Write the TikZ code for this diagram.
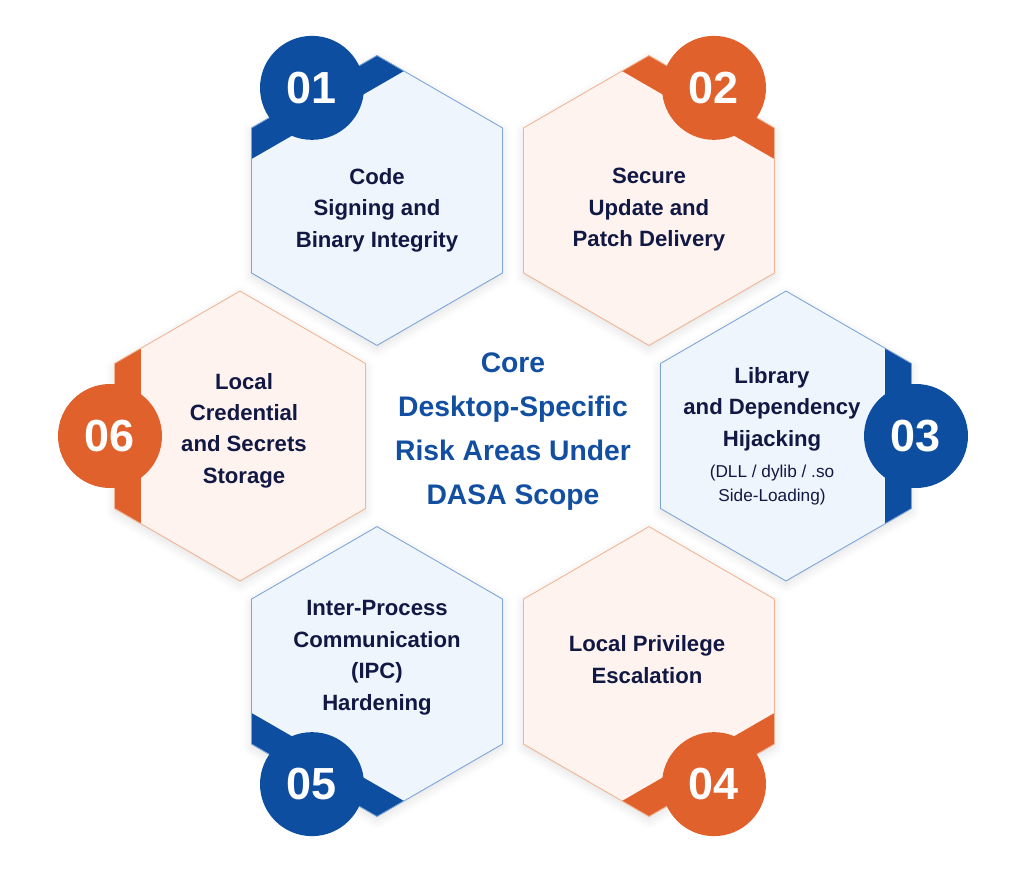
\documentclass[tikz,border=0pt]{standalone}
\usepackage{fontspec}
\setmainfont{Liberation Sans}
\usetikzlibrary{shapes.geometric,shadows.blur}
\definecolor{deepblue}{HTML}{0D4EA1}
\definecolor{deeporange}{HTML}{E0612B}
\definecolor{paleblue}{HTML}{EFF5FC}
\definecolor{paleorange}{HTML}{FEF3EE}
\definecolor{lineblue}{HTML}{7EA5D8}
\definecolor{lineorange}{HTML}{F1B595}
\definecolor{navy}{HTML}{111843}
\definecolor{coreblue}{HTML}{134FA1}

\begin{document}
\begin{tikzpicture}[
  x=0.02cm, y=0.02cm,
  hexa/.style={regular polygon, regular polygon sides=6, shape border rotate=30, minimum size=5.8cm, inner sep=0pt, outer sep=0pt, line width=0.5pt, blur shadow={shadow xshift=0pt, shadow yshift=-2pt, shadow opacity=12, shadow blur radius=5pt}},
  bluehex/.style={hexa, fill=paleblue, draw=lineblue},
  orangehex/.style={hexa, fill=paleorange, draw=lineorange},
  band/.style 2 args={path picture={\fill[#2]
    ([shift={(#1:98.6)}, shift={(#1+90:200)}]path picture bounding box.center) --
    ([shift={(#1:200)}, shift={(#1+90:200)}]path picture bounding box.center) --
    ([shift={(#1:200)}, shift={(#1-90:200)}]path picture bounding box.center) --
    ([shift={(#1:98.6)}, shift={(#1-90:200)}]path picture bounding box.center) -- cycle;}},
  badge/.style={circle, minimum size=2.08cm, inner sep=0pt, text=white, font=\fontsize{25.6}{30}\selectfont\bfseries},
  hextext/.style={align=center, text=navy, font=\fontsize{12.6}{17.9}\selectfont\bfseries},
  smalltext/.style={align=center, text=navy, font=\fontsize{9.8}{13.7}\selectfont},
  coretext/.style={align=center, text=coreblue, font=\fontsize{16.1}{25}\selectfont\bfseries}
]
\useasboundingbox (-513,-443) rectangle (511,436);

\node[bluehex, band={120}{deepblue}] (code) at (120:272) {};
\node[orangehex, band={60}{deeporange}] (update) at (60:272) {};
\node[bluehex, band={0}{deepblue}] (library) at (0:273) {};
\node[orangehex, band={-60}{deeporange}] (privilege) at (-60:272) {};
\node[bluehex, band={-120}{deepblue}] (ipc) at (-120:272) {};
\node[orangehex, band={180}{deeporange}] (secrets) at (180:273) {};

\node[badge, fill=deepblue] (n01) at ([shift={(120:130)}]code.center) {01};
\node[badge, fill=deeporange] (n02) at ([shift={(60:130)}]update.center) {02};
\node[badge, fill=deepblue] (n03) at ([shift={(0:130)}]library.center) {03};
\node[badge, fill=deeporange] (n04) at ([shift={(-60:130)}]privilege.center) {04};
\node[badge, fill=deepblue] (n05) at ([shift={(-120:130)}]ipc.center) {05};
\node[badge, fill=deeporange] (n06) at ([shift={(180:130)}]secrets.center) {06};

\node[hextext] (codetxt) at ([shift={(0,-9.5)}]code.center) {Code\\Signing and\\Binary Integrity};
\node[hextext] (updatetxt) at ([shift={(0,-9.5)}]update.center) {Secure\\Update and\\Patch Delivery};
\node[hextext] (librarytxt) at ([shift={(-14,27)}]library.center) {Library\\and Dependency\\Hijacking};
\node[smalltext] (librarynote) at ([shift={(-14,-49)}]library.center) {(DLL / dylib / .so\\Side-Loading)};
\node[hextext] (privilegetxt) at ([shift={(-2,12)}]privilege.center) {Local Privilege\\Escalation};
\node[hextext] (ipctxt) at ([shift={(0,14)}]ipc.center) {Inter-Process\\Communication\\(IPC)\\Hardening};
\node[hextext] (secretstxt) at ([shift={(4,5.5)}]secrets.center) {Local\\Credential\\and Secrets\\Storage};

\node[coretext] (core) at (0,4.5) {Core\\Desktop-Specific\\Risk Areas Under\\DASA Scope};
\end{tikzpicture}
\end{document}
